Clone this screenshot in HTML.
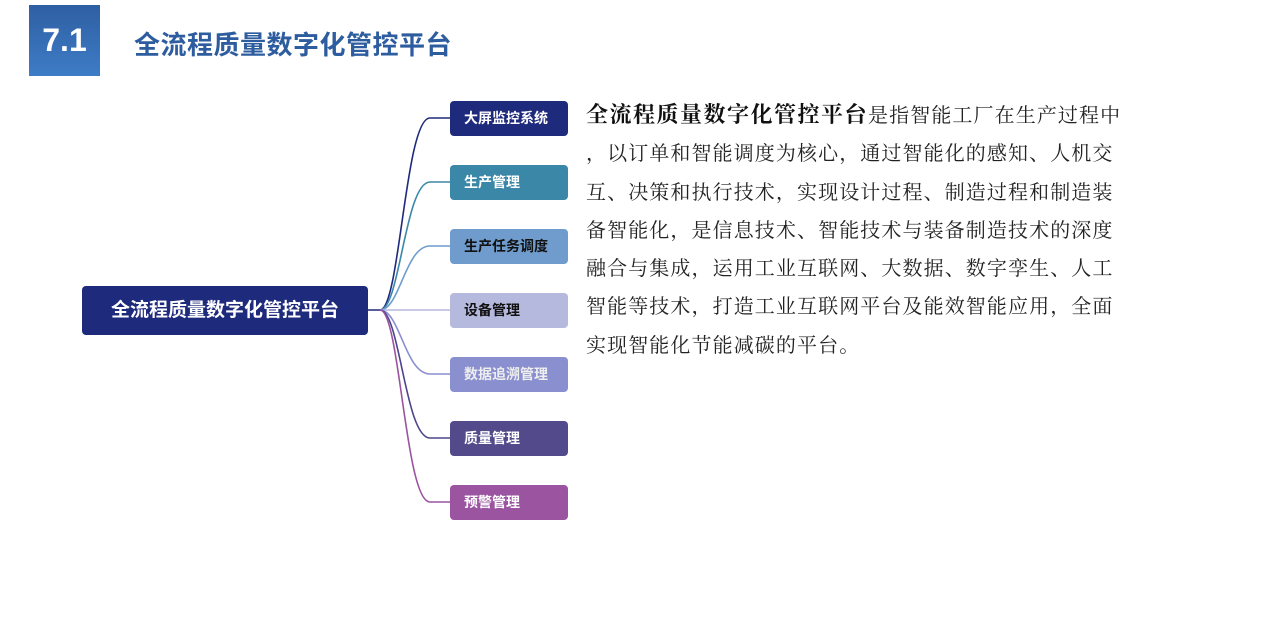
<!DOCTYPE html>
<html><head><meta charset="utf-8"><style>
body{margin:0;width:1280px;height:630px;background:#fff;position:relative;overflow:hidden;font-family:"Liberation Sans","Noto Sans CJK SC",sans-serif}
.num{position:absolute;left:29px;top:5px;width:71px;height:71px;background:linear-gradient(#2f5fa3,#3d7cc6);color:#fff;font-weight:bold;font-size:32px;line-height:71px;text-align:center}
.title{position:absolute;left:134px;top:26px;font-size:26px;letter-spacing:0.5px;font-weight:bold;color:#2e5d9f;line-height:38px}
.root{position:absolute;left:82px;top:286px;width:286px;height:49px;background:#1e2a7c;border-radius:4px;color:#fff;font-weight:bold;font-size:19px;line-height:49px;text-align:center}
.b{position:absolute;left:450px;width:118px;height:35px;border-radius:4px;font-weight:bold;font-size:14px;line-height:35px;padding-left:14px;box-sizing:border-box}
.p{position:absolute;left:586px;top:96px;font-family:"Liberation Serif","Noto Serif CJK SC",serif;font-size:20px;letter-spacing:1.1px;line-height:38.3px;color:#222;white-space:nowrap}
.p b{font-size:22px;letter-spacing:1.5px;color:#111}
</style></head><body>
<div class="num">7.1</div>
<div class="title">全流程质量数字化管控平台</div>
<svg style="position:absolute;left:0;top:0" width="1280" height="630" fill="none" stroke-width="1.6">
<path d="M368 310 H380 C400 310,405 118,430 118 H450" stroke="#1e2a7c"/>
<path d="M380 310 C400 310,405 182,430 182 H450" stroke="#3a87a8"/>
<path d="M380 310 C400 310,405 246,430 246 H450" stroke="#6f9ccc"/>
<path d="M380 310 H450" stroke="#b6b9de"/>
<path d="M380 310 C400 310,405 374,430 374 H450" stroke="#8a8fcf"/>
<path d="M380 310 C400 310,405 438,430 438 H450" stroke="#4c468a"/>
<path d="M380 310 C400 310,405 502,430 502 H450" stroke="#9b54a0"/>
</svg>
<div class="root">全流程质量数字化管控平台</div>
<div class="b" style="top:101px;background:#1e2a7c;color:#fff">大屏监控系统</div>
<div class="b" style="top:165px;background:#3a87a8;color:#fff">生产管理</div>
<div class="b" style="top:229px;background:#6f9ccc;color:#111">生产任务调度</div>
<div class="b" style="top:293px;background:#b6b9de;color:#111">设备管理</div>
<div class="b" style="top:357px;background:#8a8fcf;color:#eee">数据追溯管理</div>
<div class="b" style="top:421px;background:#534a8c;color:#fff">质量管理</div>
<div class="b" style="top:485px;background:#9b54a0;color:#fff">预警管理</div>
<div class="p"><b>全流程质量数字化管控平台</b>是指智能工厂在生产过程中<br>，以订单和智能调度为核心，通过智能化的感知、人机交<br>互、决策和执行技术，实现设计过程、制造过程和制造装<br>备智能化，是信息技术、智能技术与装备制造技术的深度<br>融合与集成，运用工业互联网、大数据、数字孪生、人工<br>智能等技术，打造工业互联网平台及能效智能应用，全面<br>实现智能化节能减碳的平台。</div>
</body></html>
